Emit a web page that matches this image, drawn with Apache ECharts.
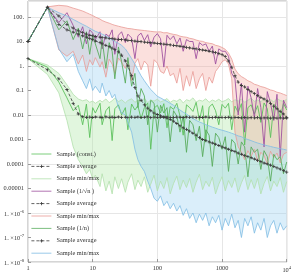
<!DOCTYPE html>
<html><head><meta charset="utf-8">
<script src="https://cdn.jsdelivr.net/npm/echarts@6/dist/echarts.min.js"></script>
<style>html,body{margin:0;padding:0;background:#fff}#c{width:294px;height:273px}</style>
</head><body><div id="c"></div>
<script>
const nVals = [1,2,3,4,5,6,7,8,9,10,11,13,14,16,18,20,22,25,28,32,35,40,45,50,56,63,71,79,89,100,112,126,141,158,178,200,224,251,282,316,355,398,447,501,562,631,708,794,891,1000,1122,1259,1413,1585,1778,1995,2239,2512,2818,3162,3548,3981,4467,5012,5623,6310,7079,7943,8913,10000];

const constAvg = [2,0.7,0.3,0.11,0.03,0.011,0.0085,0.008,0.0082,0.0079,
0.0083,0.0081,0.0078,0.0084,0.008,0.0082,0.0079,0.0083,0.008,0.0081,
0.0078,0.0082,0.008,0.0083,0.0079,0.0081,0.0084,0.0078,0.0082,0.008,
0.0081,0.0079,0.0083,0.008,0.0078,0.0082,0.0081,0.0079,0.0083,0.008,
0.0082,0.0078,0.0081,0.0079,0.0083,0.008,0.0078,0.0081,0.0079,0.008,
0.0078,0.0081,0.0077,0.008,0.0079,0.0076,0.0079,0.0077,0.0078,0.0076,
0.0078,0.0075,0.0077,0.0076,0.0074,0.0077,0.0075,0.0076,0.0074,0.0075];
const constMax = [2,1.1,0.5,0.17,0.07,0.045,0.038,0.042,0.033,0.037,
0.03,0.04,0.034,0.045,0.032,0.038,0.05,0.035,0.042,0.031,
0.039,0.046,0.033,0.04,0.036,0.048,0.032,0.041,0.037,0.044,
0.034,0.039,0.047,0.033,0.04,0.036,0.045,0.031,0.042,0.038,
0.05,0.034,0.04,0.037,0.046,0.033,0.041,0.036,0.044,0.035,
0.039,0.047,0.034,0.042,0.037,0.045,0.033,0.04,0.049,0.036,
0.041,0.035,0.046,0.038,0.043,0.034,0.047,0.039,0.036,0.044];
const constMin = [2,0.45,0.08,0.006,5e-4,1.5e-4,8e-5,4e-5,6e-5,2.5e-5,
3.5e-5,1.2e-5,4e-5,8e-6,2e-5,6e-6,3e-5,1e-5,2.5e-5,7e-6,
1.8e-5,4e-5,9e-6,2.2e-5,1.2e-5,3e-5,7e-6,1.5e-5,3.5e-5,8e-6,
2e-5,1e-5,2.8e-5,6e-6,1.6e-5,3.2e-5,9e-6,2.2e-5,1.1e-5,2.6e-5,
7e-6,1.8e-5,3.8e-5,9e-6,2e-5,1.2e-5,2.9e-5,6e-6,1.5e-5,3e-5,
8e-6,2.1e-5,1.1e-5,2.7e-5,7e-6,1.7e-5,3.4e-5,9e-6,2.3e-5,1e-5,
2.6e-5,6e-6,1.6e-5,3.1e-5,8e-6,2e-5,1.2e-5,2.8e-5,7e-6,1.9e-5];
const constSample = [2,0.9,0.22,0.05,0.015,0.025,0.004,0.028,0.0012,0.02,
0.012,0.03,0.004,0.015,0.022,0.0009,0.018,0.026,0.01,0.02,
0.0025,0.028,0.016,0.024,0.007,0.02,0.031,0.0004,0.019,0.025,
0.012,0.029,0.003,0.022,0.017,0.03,0.009,0.0015,0.026,0.02,
0.014,0.033,0.006,0.024,0.0008,0.021,0.028,0.015,0.004,0.027,
0.019,0.03,0.0025,0.023,0.013,0.029,0.0006,0.02,0.026,0.011,
0.024,0.005,0.031,0.018,0.0012,0.027,0.021,0.008,0.03,0.016];

const sqrtAvg = [10,250,110,50,35,27,23,20,18,17,
16,15,14.5,14,13.5,13,12.6,12.2,12,11.6,
11.2,10.8,10.4,10.1,9.8,9.5,9.2,8.9,8.7,8.4,
8.1,7.8,7.6,7.3,7.0,6.7,6.4,6.1,5.8,5.5,
5.2,5.0,4.7,4.5,4.3,4.0,3.8,3.5,3.2,2.9,
2.4,1.6,0.9,0.4,0.22,0.16,0.14,0.11,0.09,0.075,
0.062,0.052,0.045,0.037,0.03,0.023,0.018,0.014,0.011,0.008];
const sqrtMax = [10,260,300,280,230,200,175,150,130,115,
100,82,72,62,56,50,46,42,39,36,
34,33,31,30,29,28,27,26,25,24.5,
24.8,22.5,23,21,19.5,18.6,16.5,15.5,14.9,13.5,
12.8,11.5,10.5,10.1,9,8.5,8.1,7,6.5,5.7,
4.8,3.4,1.9,0.75,0.48,0.37,0.31,0.25,0.22,0.18,
0.165,0.145,0.135,0.12,0.105,0.098,0.085,0.079,0.07,0.062];
const sqrtMin = [10,250,4.5,2.5,4,1.2,2.8,0.6,1.8,1.1,
2.2,0.9,1.5,0.35,1.9,1.2,0.5,2.1,1.4,0.8,
1.7,0.25,1.3,2,0.7,1.6,1.1,0.15,1.8,1.3,
0.6,0.5,1,0.4,0.5,0.2,0.8,0.1,0.4,0.15,
0.6,0.12,0.3,0.5,0.1,0.35,0.2,0.6,0.9,1.5,
1.8,1.2,0.3,0.002,5e-4,3e-4,1.5e-4,3.5e-4,2e-4,4e-4,
1.2e-4,3e-4,2.2e-4,1e-4,3.3e-4,1.8e-4,2.8e-4,1.1e-4,2.5e-4,3e-4];
const sqrtSample = [10,250,60,150,45,15,40,8,30,22,
12,25,5,20,16,30,3,18,25,9,
20,14,2,17,22,11,19,6,15,21,
13,0.9,18,12,17,8,14,4,12,10,
10,2,9,7,8,4,6.5,1.2,5,4,
4,2.5,0.5,0.3,0.01,0.2,0.002,0.15,0.05,0.008,
0.12,0.02,0.0005,0.09,0.03,0.006,0.07,0.0002,0.04,0.02];

const invAvg = [10,250,50,30,24,20,17,15,13,12,
10.5,9,8,7,6.2,5.4,4.7,3.8,2.8,1.6,
1.0,0.4,0.13,0.06,0.04,0.026,0.019,0.015,0.012,0.0105,
0.0092,0.0085,0.0075,0.0066,0.0056,0.0045,0.0036,0.003,0.0026,0.0022,
0.0018,0.0015,0.0012,0.001,0.0009,0.0008,0.00072,0.00064,0.00057,0.0005,
0.00045,0.0004,0.00036,0.00032,0.00028,0.00025,0.00022,0.0002,0.00018,0.00016,
0.00014,0.000125,0.00011,0.0001,9e-5,8e-5,7e-5,6.2e-5,5.4e-5,4.7e-5];
const invMax = [10,250,150,110,80,62,50,42,35,30,
26,22,20,17,14,12,10,8.5,7,5,
3.5,2,1.2,0.7,0.4,0.25,0.16,0.11,0.08,0.058,
0.05,0.042,0.036,0.03,0.025,0.02,0.016,0.013,0.011,0.0088,
0.0072,0.006,0.0052,0.0046,0.004,0.0036,0.0032,0.0029,0.0026,0.0024,
0.0022,0.002,0.0018,0.0016,0.0014,0.0013,0.0011,0.001,0.0009,0.0008,
0.00072,0.00066,0.0006,0.00056,0.00052,0.00048,0.00045,0.00042,0.0004,0.00037];
const invMin = [10,250,5,1.5,3,0.6,0.25,0.12,0.3,0.1,
0.15,0.08,0.2,0.06,0.1,0.05,0.07,0.02,0.012,0.01,
0.005,0.002,4e-4,1.5e-4,8e-5,5e-5,2e-5,1e-5,4e-6,3e-6,
5e-6,2e-6,3e-6,1.5e-6,2.5e-6,1.2e-6,2e-6,8e-7,1.5e-6,6e-7,
1e-6,4e-7,9e-7,5e-7,1e-6,3e-7,7e-7,4e-7,8e-7,2e-7,
6e-7,3e-7,9e-7,2.5e-7,5e-7,1e-7,6e-7,3e-7,7e-7,1.5e-7,
4e-7,2e-7,6e-7,1e-7,3e-7,5e-7,1.5e-7,4e-7,2e-7,3e-7];
const invSample = [10,250,30,70,12,35,5,25,3,18,
8,2,12,0.8,9,4,0.3,6,1.5,0.2,
2.2,0.15,0.5,0.02,0.12,0.06,0.004,0.04,0.03,0.002,
0.025,0.012,0.02,0.0008,0.015,0.009,0.002,0.009,0.0003,0.006,
0.004,0.0009,0.0035,0.0002,0.0025,0.0015,0.00008,0.0018,0.0012,0.0004,
0.0013,0.00005,0.001,0.0007,0.0001,0.0008,0.0005,0.00003,0.0005,0.0003,
0.0004,0.00006,0.00035,0.0002,0.00002,0.00025,0.00015,0.0002,0.00004,0.00012];

const xTickLabels = ['1','10','100','1000','{a|10}{s|4}'];
const yTickLabels = ['{a|1. ×10}{s|-8}','{a|1. ×10}{s|-7}','{a|1. ×10}{s|-6}','0.00001','0.0001','0.001','0.01','0.1','1.','10.','100.'];
const seriesNames = ['Sample (const.)','Sample average','Sample min/max','Sample (1/\u221An )','Sample average\u200b','Sample min/max\u200b','Sample (1/n)','Sample average\u200b\u200b','Sample min/max\u200b\u200b'];

const FONT = 'Liberation Serif';
const pairs = arr => nVals.map((n, i) => [n, arr[i]]);
const PLUS = 'path://M3,0h2v3h3v2h-3v3h-2v-3h-3v-2h3z';

function band(name, minArr, maxArr, fill) {
  return {
    type: 'custom', name: name, silent: true, clip: true, data: [[1, 1]],
    renderItem: function (params, api) {
      const pts = [];
      for (let i = 0; i < nVals.length; i++) pts.push(api.coord([nVals[i], maxArr[i]]));
      for (let i = nVals.length - 1; i >= 0; i--) pts.push(api.coord([nVals[i], minArr[i]]));
      return { type: 'polygon', shape: { points: pts }, style: { fill: fill } };
    }
  };
}
function line(name, arr, color, width) {
  return { type: 'line', name: name, data: pairs(arr), showSymbol: false, symbol: 'none',
    lineStyle: { color: color, width: width }, itemStyle: { color: color } };
}
function avgLine(name, arr) {
  return { type: 'line', name: name, data: pairs(arr), symbol: PLUS, symbolSize: 3.2, showSymbol: true,
    lineStyle: { color: '#3a3a3a', width: 0.8, type: [3, 2] }, itemStyle: { color: '#3a3a3a' } };
}
function group(k, sample, avg, min, max, sampleColor, mmColor, fill) {
  const nm = seriesNames.slice(k * 3, k * 3 + 3);
  return [
    band('band' + k, min, max, fill),
    line(nm[2], max, mmColor, 0.8),
    line(nm[2], min, mmColor, 0.8),
    line(nm[0], sample, sampleColor, 0.9),
    avgLine(nm[1], avg)
  ];
}

const series = [].concat(
  group(0, constSample, constAvg, constMin, constMax, '#5cc15c', '#b2dfac', 'rgba(170,228,160,0.35)'),
  group(1, sqrtSample, sqrtAvg, sqrtMin, sqrtMax, '#a052a0', '#e89a96', 'rgba(242,160,150,0.32)'),
  group(2, invSample, invAvg, invMin, invMax, '#5aad5e', '#80bde3', 'rgba(150,205,240,0.35)')
);

const legendData = seriesNames.map((nm, i) => (i % 3 === 1)
  ? { name: nm }
  : { name: nm, itemStyle: { opacity: 0 } });

const richSup = {
  a: { fontFamily: FONT, fontSize: 6.3, color: '#333', lineHeight: 8, verticalAlign: 'bottom' },
  s: { fontFamily: FONT, fontSize: 4.6, color: '#333', lineHeight: 5, verticalAlign: 'top' }
};
function expOf(v) { const l = Math.log10(v); const e = Math.round(l); return Math.abs(l - e) < 0.02 ? e : null; }

const chart = echarts.init(document.getElementById('c'), null, { renderer: 'canvas' });
chart.setOption({
  animation: false,
  backgroundColor: '#fff',
  grid: { left: 28, right: 6, top: 1, bottom: 11, show: true, borderColor: '#aaa', borderWidth: 1, containLabel: false },
  legend: {
    data: legendData, orient: 'vertical', left: 31, top: 150.5, padding: 0,
    itemWidth: 20, itemHeight: 4, itemGap: 5.4, selectedMode: false,
    lineStyle: { width: 0.8 },
    formatter: n => n.replace(/\u200b/g, ''),
    textStyle: { fontFamily: FONT, fontSize: 6.3, color: '#333', lineHeight: 7 }
  },
  xAxis: [{
    type: 'log', min: 1, max: 10000, interval: 1,
    axisLine: { show: false },
    axisTick: { show: true, inside: true, length: 3, lineStyle: { color: '#999' } },
    splitLine: { show: true, lineStyle: { color: '#e6e6e6', width: 1 } },
    axisLabel: { margin: 3, fontFamily: FONT, fontSize: 6.3, color: '#333', rich: richSup,
      formatter: v => { const e = expOf(v); return e === null ? '' : xTickLabels[e]; } }
  }],
  yAxis: [{
    type: 'log', min: 1e-8, max: 450, interval: 1,
    axisLine: { show: false },
    axisTick: { show: true, inside: true, length: 3, lineStyle: { color: '#999' } },
    splitLine: { show: false },
    axisLabel: { margin: 4, fontFamily: FONT, fontSize: 6.3, color: '#333', rich: richSup, showMaxLabel: false,
      formatter: v => { const e = expOf(v); return e === null ? '' : yTickLabels[e + 8]; } }
  }, {
    type: 'log', min: 1e-8, max: 450, interval: 2, position: 'left',
    axisLine: { show: false }, axisTick: { show: false }, axisLabel: { show: false },
    splitLine: { show: true, lineStyle: { color: '#e6e6e6', width: 1 } }
  }],
  series: series
});
</script></body></html>
